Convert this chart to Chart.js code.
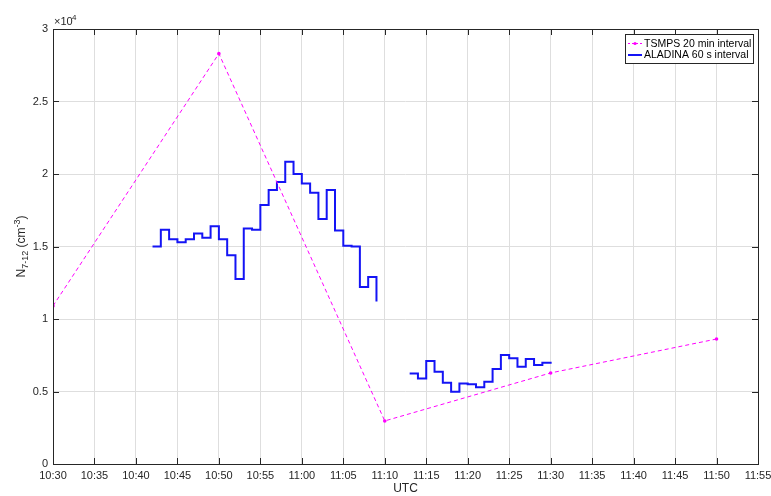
<!DOCTYPE html>
<html>
<head>
<meta charset="utf-8">
<script src="https://cdn.jsdelivr.net/npm/chart.js@4/dist/chart.umd.min.js"></script>
<style>
  html, body { margin: 0; padding: 0; background: #fff; }
  #wrap { width: 771px; height: 496px; position: relative; }
</style>
</head>
<body>
<div id="wrap"><canvas id="c"></canvas></div>
<script>
// ─── Data ──────────────────────────────────────────────
const xTickLabels = ['10:30','10:35','10:40','10:45','10:50','10:55','11:00','11:05','11:10',
                     '11:15','11:20','11:25','11:30','11:35','11:40','11:45','11:50','11:55'];
const yTickLabels = ['0','0.5','1','1.5','2','2.5','3'];

// TSMPS, 20 min interval
const tsmpsTimes  = ['10:30','10:50','11:10','11:30','11:50'];
const tsmpsValues = [10900, 28300, 2970, 6280, 8620];

// ALADINA, 60 s interval (two flight legs)
const aladinaStart1 = '10:42';
const aladinaValues1 = [15000, 16150, 15500, 15300, 15500, 15900, 15600, 16400, 15500, 14400,
                        12760, 16250, 16150, 17860, 18900, 19450, 20850, 20000, 19350, 18700,
                        16900, 18900, 16100, 15060, 15000, 12200, 12900, 11200];
const aladinaStart2 = '11:13';
const aladinaValues2 = [6250, 5900, 7100, 6370, 5600, 4990, 5560, 5500, 5290, 5680,
                        6550, 7520, 7290, 6710, 7240, 6830, 6990, 7050];

// ─── Helpers ───────────────────────────────────────────
const T0 = 10 * 60 + 30;
const toMin = s => { const [h, m] = s.split(':').map(Number); return h * 60 + m - T0; };

function legPoints(start, values) {
    const t = toMin(start);
    return values.map((v, i) => ({ x: t + i, y: v }));
}

const aladinaData = [
    ...legPoints(aladinaStart1, aladinaValues1),
    { x: toMin(aladinaStart1) + aladinaValues1.length, y: null },
    ...legPoints(aladinaStart2, aladinaValues2)
];
const tsmpsData = tsmpsTimes.map((t, i) => ({ x: toMin(t), y: tsmpsValues[i] }));

const C = {
    axis:    '#262626',
    grid:    '#dedede',
    blue:    '#1414f5',
    magenta: '#ff00ff',
    font:    "'Liberation Sans', Arial, sans-serif"
};

// ─── Decorations (box, inward ticks, labels, legend) ────
const decor = {
    id: 'decor',
    afterDraw(chart) {
        const { ctx, chartArea: a, scales } = chart;
        ctx.save();
        ctx.strokeStyle = C.axis;
        ctx.lineWidth = 1;
        // box
        ctx.strokeRect(Math.round(a.left) + 0.5, Math.round(a.top) + 0.5,
                       Math.round(a.right - a.left), Math.round(a.bottom - a.top));
        // inward ticks
        ctx.beginPath();
        scales.x.ticks.forEach(t => {
            const px = Math.round(scales.x.getPixelForValue(t.value)) + 0.5;
            ctx.moveTo(px, a.bottom); ctx.lineTo(px, a.bottom - 6);
            ctx.moveTo(px, a.top);    ctx.lineTo(px, a.top + 6);
        });
        scales.y.ticks.forEach(t => {
            const py = Math.round(scales.y.getPixelForValue(t.value)) + 0.5;
            ctx.moveTo(a.left, py);  ctx.lineTo(a.left + 6, py);
            ctx.moveTo(a.right, py); ctx.lineTo(a.right - 6, py);
        });
        ctx.stroke();

        ctx.fillStyle = C.axis;
        // exponent
        ctx.font = `11px ${C.font}`;
        ctx.textBaseline = 'alphabetic';
        ctx.textAlign = 'left';
        ctx.fillText('\u00d710', a.left + 1, a.top - 4);
        ctx.font = `8px ${C.font}`;
        ctx.fillText('4', a.left + 19, a.top - 9);

        // x title
        ctx.font = `12px ${C.font}`;
        ctx.textAlign = 'center';
        ctx.fillText('UTC', (a.left + a.right) / 2, 492);

        // y title with sub/superscripts
        const parts = [
            { t: 'N', s: 12, dy: 0 },
            { t: '7-12', s: 9, dy: 3 },
            { t: ' (cm', s: 12, dy: 0 },
            { t: '-3', s: 9, dy: -5 },
            { t: ')', s: 12, dy: 0 }
        ];
        let total = 0;
        parts.forEach(p => { ctx.font = `${p.s}px ${C.font}`; p.w = ctx.measureText(p.t).width; total += p.w; });
        ctx.translate(25, (a.top + a.bottom) / 2);
        ctx.rotate(-Math.PI / 2);
        ctx.textAlign = 'left';
        let xx = -total / 2;
        parts.forEach(p => {
            ctx.font = `${p.s}px ${C.font}`;
            ctx.fillText(p.t, xx, p.dy);
            xx += p.w;
        });
        ctx.restore();

        // legend
        ctx.save();
        const lx = 625.5, ly = 34.5, lw = 128, lh = 29;
        ctx.fillStyle = '#fff';
        ctx.fillRect(lx, ly, lw, lh);
        ctx.strokeStyle = C.axis;
        ctx.lineWidth = 1;
        ctx.strokeRect(lx, ly, lw, lh);
        ctx.font = `10.5px ${C.font}`;
        ctx.textBaseline = 'middle';
        ctx.textAlign = 'left';
        // row 1
        ctx.strokeStyle = C.magenta;
        ctx.setLineDash([2, 2]);
        ctx.beginPath(); ctx.moveTo(628, 43.5); ctx.lineTo(642, 43.5); ctx.stroke();
        ctx.setLineDash([]);
        ctx.fillStyle = C.magenta;
        ctx.beginPath(); ctx.arc(635, 43.5, 1.6, 0, Math.PI * 2); ctx.fill();
        ctx.fillStyle = '#000';
        ctx.fillText('TSMPS 20 min interval', 644, 44);
        // row 2
        ctx.strokeStyle = C.blue;
        ctx.lineWidth = 2;
        ctx.beginPath(); ctx.moveTo(628, 55); ctx.lineTo(642, 55); ctx.stroke();
        ctx.fillText('ALADINA 60 s interval', 644, 55.5);
        ctx.restore();
    }
};

// ─── Chart ─────────────────────────────────────────────
new Chart(document.getElementById('c').getContext('2d'), {
    type: 'line',
    data: {
        datasets: [
            {
                label: 'TSMPS 20 min interval',
                data: tsmpsData,
                borderColor: C.magenta,
                backgroundColor: C.magenta,
                borderWidth: 1,
                borderDash: [4, 3],
                pointRadius: 1.8,
                pointBorderWidth: 0,
                fill: false,
                tension: 0
            },
            {
                label: 'ALADINA 60 s interval',
                data: aladinaData,
                borderColor: C.blue,
                borderWidth: 2,
                pointRadius: 0,
                stepped: 'before',
                spanGaps: false,
                fill: false
            }
        ]
    },
    options: {
        responsive: true,
        maintainAspectRatio: false,
        animation: false,
        layout: { padding: { top: 29, right: 13, left: 0, bottom: 0 } },
        plugins: { legend: { display: false }, tooltip: { enabled: false } },
        scales: {
            x: {
                type: 'linear',
                min: 0, max: 85,
                afterFit: s => { s.height = 32; s.paddingLeft = 0; s.paddingRight = 0; },
                afterBuildTicks: s => { s.ticks = xTickLabels.map((_, i) => ({ value: i * 5 })); },
                grid: { color: C.grid, drawTicks: false },
                border: { display: false },
                ticks: {
                    color: C.axis, padding: 5, maxRotation: 0, autoSkip: false,
                    font: { size: 11, family: C.font },
                    callback: (v, i) => xTickLabels[i]
                }
            },
            y: {
                min: 0, max: 30000,
                afterFit: s => { s.width = 53; s.paddingTop = 0; s.paddingBottom = 0; },
                afterBuildTicks: s => { s.ticks = yTickLabels.map((_, i) => ({ value: i * 5000 })); },
                grid: { color: C.grid, drawTicks: false },
                border: { display: false },
                ticks: {
                    color: C.axis, padding: 5,
                    font: { size: 11, family: C.font },
                    callback: (v, i) => yTickLabels[i]
                }
            }
        }
    },
    plugins: [decor]
});
</script>
</body>
</html>
